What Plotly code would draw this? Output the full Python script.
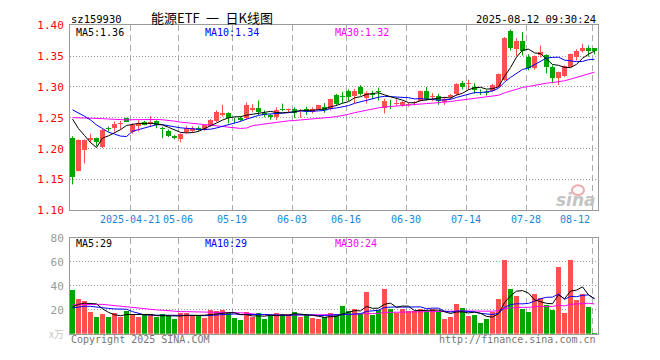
import plotly.graph_objects as go

# ---------------- data ----------------
dates = ["04-07","04-08","04-09","04-10","04-11","04-14","04-15","04-16","04-17","04-18",
         "04-21","04-22","04-23","04-24","04-25","04-28","04-29","04-30","05-06","05-07",
         "05-08","05-09","05-12","05-13","05-14","05-15","05-16","05-19","05-20","05-21",
         "05-22","05-23","05-26","05-27","05-28","05-29","05-30","06-03","06-04","06-05",
         "06-06","06-09","06-10","06-11","06-12","06-13","06-16","06-17","06-18","06-19",
         "06-20","06-23","06-24","06-25","06-26","06-27","06-30","07-01","07-02","07-03",
         "07-04","07-07","07-08","07-09","07-10","07-11","07-14","07-15","07-16","07-17",
         "07-18","07-21","07-22","07-23","07-24","07-25","07-28","07-29","07-30","07-31",
         "08-01","08-04","08-05","08-06","08-07","08-08","08-11","08-12"]

opens = [1.218,1.164,1.198,1.214,1.217,1.203,1.234,1.233,1.240,1.249,
         1.227,1.237,1.243,1.240,1.245,1.234,1.228,1.221,1.215,1.227,
         1.228,1.234,1.231,1.2375,1.245,1.255,1.258,1.247,1.250,1.249,
         1.263,1.266,1.257,1.254,1.252,1.264,1.263,1.265,1.262,1.265,
         1.259,1.264,1.268,1.265,1.287,1.285,1.293,1.285,1.2995,1.282,
         1.289,1.294,1.266,1.276,1.273,1.271,1.271,1.274,1.278,1.293,
         1.284,1.2855,1.275,1.283,1.288,1.306,1.304,1.300,1.2925,1.292,
         1.293,1.300,1.311,1.391,1.361,1.375,1.349,1.330,1.352,1.352,
         1.332,1.314,1.317,1.333,1.348,1.358,1.3625,1.3625]
highs = [1.220,1.215,1.215,1.224,1.218,1.232,1.236,1.244,1.245,1.250,
         1.241,1.246,1.245,1.253,1.246,1.236,1.231,1.222,1.225,1.237,
         1.236,1.236,1.239,1.248,1.262,1.271,1.259,1.250,1.252,1.275,
         1.272,1.278,1.262,1.256,1.267,1.273,1.265,1.267,1.264,1.268,
         1.267,1.271,1.274,1.281,1.289,1.292,1.296,1.297,1.303,1.293,
         1.294,1.299,1.281,1.279,1.280,1.277,1.274,1.277,1.294,1.300,
         1.290,1.289,1.283,1.289,1.306,1.310,1.312,1.306,1.296,1.295,
         1.305,1.322,1.381,1.393,1.379,1.389,1.353,1.351,1.367,1.353,
         1.335,1.325,1.335,1.354,1.361,1.370,1.367,1.363]
lows = [1.142,1.163,1.176,1.209,1.204,1.201,1.228,1.228,1.231,1.243,
        1.224,1.228,1.238,1.236,1.233,1.217,1.219,1.215,1.210,1.225,
        1.226,1.228,1.229,1.236,1.243,1.252,1.241,1.241,1.244,1.247,
        1.259,1.254,1.251,1.247,1.246,1.261,1.259,1.250,1.250,1.255,
        1.257,1.263,1.258,1.262,1.270,1.274,1.277,1.274,1.286,1.273,
        1.280,1.278,1.257,1.264,1.270,1.268,1.268,1.270,1.277,1.278,
        1.277,1.271,1.271,1.279,1.286,1.296,1.296,1.289,1.287,1.286,
        1.292,1.299,1.310,1.359,1.350,1.351,1.327,1.328,1.348,1.322,
        1.306,1.303,1.316,1.332,1.343,1.356,1.349,1.353]
closes = [1.154,1.214,1.214,1.217,1.210,1.231,1.232,1.240,1.241,1.244,
          1.239,1.241,1.239,1.243,1.238,1.232,1.221,1.217,1.224,1.234,
          1.234,1.231,1.238,1.2458,1.259,1.258,1.249,1.246,1.247,1.271,
          1.266,1.259,1.255,1.251,1.262,1.263,1.264,1.258,1.263,1.261,
          1.265,1.270,1.263,1.280,1.272,1.283,1.283,1.294,1.289,1.291,
          1.287,1.292,1.277,1.275,1.274,1.275,1.272,1.275,1.293,1.281,
          1.285,1.277,1.280,1.287,1.305,1.300,1.306,1.295,1.2915,1.290,
          1.3035,1.321,1.380,1.3625,1.375,1.359,1.330,1.350,1.356,1.332,
          1.314,1.3235,1.334,1.353,1.359,1.3625,1.3575,1.358]
volumes = [36.3,29.0,27.4,18.0,13.7,16.1,13.7,17.7,13.7,18.8,
           16.1,14.0,15.3,16.1,14.0,16.1,14.5,12.4,16.9,16.9,
           15.1,15.1,13.2,19.4,18.8,19.4,16.9,13.2,11.6,18.5,
           14.0,16.9,12.1,16.0,16.9,16.5,16.1,18.5,14.0,15.3,
           12.9,12.1,14.0,16.9,16.1,23.4,18.8,21.0,16.1,34.7,
           15.3,19.6,37.1,21.0,16.9,21.0,18.8,18.8,21.0,18.8,
           21.0,18.8,12.1,13.7,25.0,21.5,14.5,15.3,8.9,12.1,
           18.5,29.0,61.3,37.1,31.5,21.0,18.5,33.1,29.8,24.2,
           19.4,55.6,16.9,61.5,28.5,33.0,22.0,0.8]

# closes / volumes before the window (estimated so the moving averages start where the picture shows)
pre_closes = [1.218,1.224,1.230,1.223,1.241,1.251,1.259,1.260,1.248,1.228,
              1.230,1.228,1.247,1.248,1.245,1.240,1.266,1.273,1.253,1.268,
              1.262,1.270,1.277,1.291,1.290,1.2915,1.2695,1.2745,1.2505]
pre_volumes = [23,24,18,14,16,30,40,28,38,26,30,33,24,29,26,28,25,24,18,17,
               20,22,19,21,21.5,18,22.4,18,16.8]

grid_labels = ["2025-04-21","05-06","05-19","06-03","06-16","06-30","07-14","07-28","08-12"]
price_ticks = [1.10,1.15,1.20,1.25,1.30,1.35,1.40]
vol_ticks = [20,40,60,80]

# ---------------- helpers ----------------
W, H = 660, 360
def px(x): return x / W
def py(y): return 1 - y / H

def moving_avg(pre, vals, n):
    allv = pre + vals
    k = len(pre)
    return [sum(allv[k + i - n + 1:k + i + 1]) / n for i in range(len(vals))]

RED = "#ff5050"
GREEN = "#00a600"
MONO = "DejaVu Sans Mono"

n = len(dates)
xs = list(range(n))
up = [c >= o for o, c in zip(opens, closes)]
ma5 = moving_avg(pre_closes, closes, 5)
ma10 = moving_avg(pre_closes, closes, 10)
ma30 = moving_avg(pre_closes, closes, 30)
vma5 = moving_avg(pre_volumes, volumes, 5)
vma10 = moving_avg(pre_volumes, volumes, 10)
vma30 = moving_avg(pre_volumes, volumes, 30)

fig = go.Figure()

# wicks
for flag, col in ((True, RED), (False, GREEN)):
    wx, wy = [], []
    for i in xs:
        if up[i] == flag:
            wx += [i, i, None]
            wy += [lows[i], highs[i], None]
    fig.add_trace(go.Scatter(x=wx, y=wy, mode="lines", line=dict(color=col, width=1),
                             hoverinfo="skip", showlegend=False, xaxis="x", yaxis="y"))

# bodies
base = [min(o, c) for o, c in zip(opens, closes)]
height = [max(abs(c - o), 0.0011) for o, c in zip(opens, closes)]
colors = [RED if u else GREEN for u in up]
fig.add_trace(go.Bar(x=xs, y=height, base=base, width=0.83, marker=dict(color=colors, line=dict(width=0)),
                     showlegend=False, xaxis="x", yaxis="y"))

for arr, col in ((ma30, "#ff00ff"), (ma10, "#0000ff"), (ma5, "#000000")):
    fig.add_trace(go.Scatter(x=xs, y=arr, mode="lines", line=dict(color=col, width=1),
                             showlegend=False, xaxis="x", yaxis="y"))

# volume
fig.add_trace(go.Bar(x=xs, y=volumes, width=0.83, marker=dict(color=colors, line=dict(width=0)),
                     showlegend=False, xaxis="x2", yaxis="y2"))
for arr, col in ((vma30, "#ff00ff"), (vma10, "#0000ff"), (vma5, "#000000")):
    fig.add_trace(go.Scatter(x=xs, y=arr, mode="lines", line=dict(color=col, width=1),
                             showlegend=False, xaxis="x2", yaxis="y2"))

# grid positions
def date_index(lbl):
    return dates.index(lbl[-5:])
grid_idx = [date_index(l) for l in grid_labels]
off = -2.5 / 6
grid_x = [g + off for g in grid_idx]
xrange = [off, (598 - 72.5) / 6]

xcommon = dict(range=xrange, domain=[px(70), px(598)], tickvals=grid_x, showticklabels=False,
               showgrid=True, gridcolor="#aaaaaa", griddash="6px,4px", gridwidth=1,
               showline=True, linecolor="#999999", linewidth=1, mirror=True,
               zeroline=False, ticks="", fixedrange=True)
fig.update_layout(
    width=W, height=H, autosize=False,
    margin=dict(l=0, r=0, t=0, b=0),
    paper_bgcolor="white", plot_bgcolor="white",
    barmode="overlay", bargap=0, hovermode=False,
    xaxis=dict(anchor="y", **xcommon),
    xaxis2=dict(anchor="y2", **xcommon),
    yaxis=dict(domain=[py(212), py(20)], range=[1.10, 1.40], tickvals=price_ticks,
               ticktext=["%.2f" % v for v in price_ticks],
               tickfont=dict(family=MONO, size=11, color="#ff0000"),
               showgrid=True, gridcolor="#999999", griddash="1px,2px", gridwidth=1,
               showline=True, linecolor="#999999", linewidth=1, mirror=True,
               zeroline=False, ticks="outside", ticklen=3, tickcolor="rgba(0,0,0,0)", fixedrange=True),
    yaxis2=dict(domain=[py(340), py(240.5)], range=[0, 80], tickvals=vol_ticks,
                ticktext=[str(v) for v in vol_ticks],
                tickfont=dict(family=MONO, size=11, color="#999999"),
                showgrid=True, gridcolor="#999999", griddash="1px,2px", gridwidth=1,
                showline=True, linecolor="#999999", linewidth=1, mirror=True,
                zeroline=False, ticks="outside", ticklen=3, tickcolor="rgba(0,0,0,0)", fixedrange=True),
)

ann = []
def text(x, y, s, color="#000", size=10, xanchor="left", family=MONO, xref="paper"):
    ann.append(dict(x=x if xref != "paper" else px(x), y=py(y), xref=xref, yref="paper", text=s,
                    showarrow=False, xanchor=xanchor, yanchor="middle",
                    font=dict(family=family, size=size, color=color)))

# header
text(69, 13, "sz159930", "#000", 10.5)
text(149, 12, "能源ETF\u2002一\u2002日K线图", "#000", 13, family="Noto Sans CJK SC")
text(598, 13, "2025-08-12 09:30:24", "#000", 10.5, xanchor="right")

# MA legends
text(74, 27, "MA5:%.2f" % ma5[-1], "#000000", 10)
text(203, 27, "MA10:%.2f" % ma10[-1], "#0000ff", 10)
text(333, 27, "MA30:%.2f" % ma30[-1], "#ff00ff", 10)
text(74, 246, "MA5:%d" % int(vma5[-1]), "#000000", 10)
text(203, 246, "MA10:%d" % int(vma10[-1]), "#0000ff", 10)
text(333, 246, "MA30:%d" % int(vma30[-1]), "#ff00ff", 10)

# date labels
for lbl, gx in zip(grid_labels, grid_x):
    last = lbl == grid_labels[-1]
    text(gx, 221, lbl, "#1a86d4", 10, xanchor="right" if last else "center", xref="x")

# footer
text(69, 346, "Copyright 2025 SINA.COM", "#777777", 10)
text(598, 346, "http://finance.sina.com.cn", "#777777", 10, xanchor="right")
text(66, 340, "x万", "#c8c8c8", 10, xanchor="right", family="Noto Sans CJK SC")

# sina watermark
text(598, 201, "<b><i>sina</i></b>", "#c4c4c4", 17, xanchor="right", family="DejaVu Sans")
fig.update_layout(annotations=ann)
fig.add_shape(type="circle", xref="paper", yref="paper",
              x0=px(572), x1=px(584), y0=py(196), y1=py(186),
              line=dict(color="#f2a8a8", width=2), fillcolor="rgba(0,0,0,0)")

fig.write_html("out.html", config={"displayModeBar": False, "staticPlot": True},
               post_script="document.body.style.margin='0px';document.body.style.padding='0px';")
